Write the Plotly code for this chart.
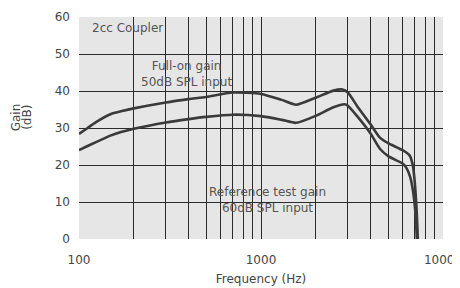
import plotly.graph_objects as go

freq_full = [100, 110, 124, 150, 170, 200, 300, 400, 500, 700, 1000, 1300, 1560, 2000, 2500, 2800, 3000, 3400, 4000, 4500, 5000, 6000, 6550, 6830, 6980, 7180, 7270]
gain_full = [28.4, 29.8, 31.6, 33.8, 34.5, 35.3, 36.9, 37.8, 38.4, 39.6, 39.2, 37.6, 36.3, 38.2, 40.1, 40.4, 39.6, 35.7, 31.0, 27.4, 25.9, 24.0, 22.6, 19.9, 15.9, 6.9, 0]

freq_ref = [100, 110, 124, 150, 170, 200, 300, 400, 500, 700, 1000, 1300, 1560, 2000, 2500, 2880, 3000, 3400, 4000, 4500, 5000, 6000, 6280, 6600, 6830, 7060, 7180]
gain_ref = [24.0, 25.0, 26.2, 28.0, 28.9, 29.8, 31.5, 32.4, 33.0, 33.6, 33.2, 32.2, 31.4, 33.3, 35.6, 36.4, 36.0, 33.0, 28.5, 24.4, 22.4, 20.4, 19.3, 16.8, 13.2, 6.9, 0]

x_ticks = [100, 1000, 10000]
x_tick_labels = ["100", "1000", "10000"]
y_ticks = [0, 10, 20, 30, 40, 50, 60]

line_color = "#3a3a3a"
grid_color = "#2b2b2b"
text_color = "#555555"
label_color = "#444444"
font_family = "DejaVu Sans, sans-serif"

fig = go.Figure()
for xs, ys in [(freq_full, gain_full), (freq_ref, gain_ref)]:
    fig.add_trace(go.Scatter(
        x=xs, y=ys, mode="lines",
        line=dict(color=line_color, width=2.6, shape="spline", smoothing=0.6),
        showlegend=False, hoverinfo="skip"))

# page body has an 8px margin: the figure is sized/offset to compensate
fig.update_layout(
    width=452, height=280,
    margin=dict(l=71, r=17, t=9, b=49),
    paper_bgcolor="white",
    plot_bgcolor="#e6e6e7",
    font=dict(family=font_family, size=12, color=text_color),
    xaxis=dict(
        type="log", range=[2, 4], automargin=False,
        tickvals=x_ticks, ticktext=x_tick_labels, ticklabeloverflow="allow",
        showgrid=True, gridcolor=grid_color, gridwidth=1.2,
        minor=dict(showgrid=True, gridcolor=grid_color, gridwidth=1, dtick="D1", ticks=""),
        zeroline=False, showline=False, ticks="", ticklen=0,
        ticklabelstandoff=12,
        tickfont=dict(size=12, color=label_color),
        title=dict(text="Frequency (Hz)", font=dict(size=12, color=label_color), standoff=8),
    ),
    yaxis=dict(
        range=[0, 60], tickvals=y_ticks, automargin=False,
        showgrid=True, gridcolor=grid_color, gridwidth=1.2,
        zeroline=False, showline=False, ticks="",
        tickfont=dict(size=12, color=label_color),
        ticklabelstandoff=8,
    ),
    annotations=[
        dict(text="Gain", textangle=-90, x=-0.172, y=0.55, xref="paper", yref="paper",
             xanchor="center", yanchor="middle",
             showarrow=False, font=dict(size=12, color=label_color)),
        dict(text="(dB)", textangle=-90, x=-0.143, y=0.55, xref="paper", yref="paper",
             xanchor="center", yanchor="middle",
             showarrow=False, font=dict(size=12, color=label_color)),
        dict(text="2cc Coupler", x=2.06, y=57.1, xref="x", yref="y", xanchor="left",
             showarrow=False, font=dict(size=12, color=text_color)),
        dict(text="Full-on gain<br>50dB SPL input", x=2.589, y=44.5, xref="x", yref="y",
             showarrow=False, font=dict(size=12, color=text_color)),
        dict(text="Reference test gain<br>60dB SPL input", x=3.038, y=10.5, xref="x", yref="y",
             showarrow=False, font=dict(size=12, color=text_color)),
    ],
)

fig.write_html("out.html")
